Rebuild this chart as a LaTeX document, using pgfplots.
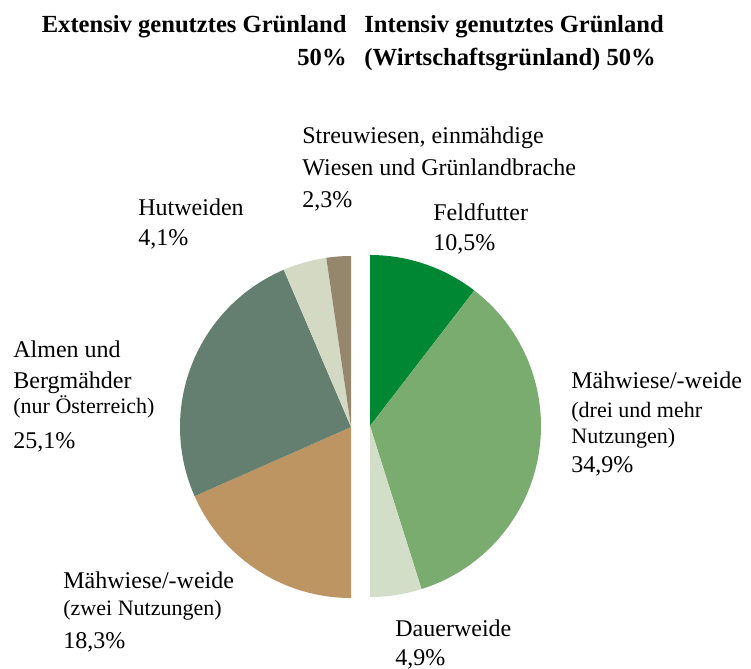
\documentclass[border=0pt]{standalone}
\usepackage{pgfplots}
\pgfplotsset{compat=1.18}
\usepackage{fontspec}
\setmainfont{Liberation Serif}

\definecolor{feld}{HTML}{008733}
\definecolor{mahdrei}{HTML}{7AAC70}
\definecolor{dauer}{HTML}{D2DEC8}
\definecolor{mahzwei}{HTML}{BC9563}
\definecolor{almen}{HTML}{647F6F}
\definecolor{hut}{HTML}{D4D9C4}
\definecolor{streu}{HTML}{95876B}

% slice: centre (x,y in px), start %, end %, half total, start angle, colour
% angle(p) = base - p/total*180  (clockwise)
\newcommand\slice[6]{%
  \fill[#6] (axis cs:#1) -- ++({#5-(#2)/(#4)*180}:85.5pt)
    arc[start angle={#5-(#2)/(#4)*180}, end angle={#5-(#3)/(#4)*180}, radius=85.5pt] -- cycle;}
% text line, anchored at baseline left
\newcommand\lbl[4][]{\node[anchor=base west,inner sep=0pt,font=#2,#1] at (axis cs:#3) {#4};}
\newcommand\lrg{\fontsize{12}{14}\selectfont}
\newcommand\sml{\fontsize{11}{13}\selectfont}

\begin{document}
\begin{tikzpicture}
\begin{axis}[
    hide axis,
    scale only axis,
    width=375.5pt, height=334pt,
    xmin=0, xmax=751,
    ymin=0, ymax=668,
    y dir=reverse,
    clip=false,
]
\path (axis cs:0,0) rectangle (axis cs:751,668);

% intensiv (right half), total 50.3
\slice{370,426}{0}{10.5}{50.3}{90}{feld}
\slice{370,426}{10.5}{45.4}{50.3}{90}{mahdrei}
\slice{370,426}{45.4}{50.3}{50.3}{90}{dauer}
% extensiv (left half), total 49.8
\slice{351,427}{0}{18.3}{49.8}{-90}{mahzwei}
\slice{351,427}{18.3}{43.4}{49.8}{-90}{almen}
\slice{351,427}{43.4}{47.5}{49.8}{-90}{hut}
\slice{351,427}{47.5}{49.8}{49.8}{-90}{streu}

% titles
\lbl[anchor=base east]{\bfseries\fontsize{12.3}{14}\selectfont}{347,32}{Extensiv genutztes Grünland}
\lbl[anchor=base east]{\bfseries\fontsize{12.3}{14}\selectfont}{347,65}{50\%}
\lbl{\bfseries\fontsize{12.3}{14}\selectfont}{364,32}{Intensiv genutztes Grünland}
\lbl{\bfseries\fontsize{12.3}{14}\selectfont}{364,65}{(Wirtschaftsgrünland) 50\%}

% labels
\lbl{\lrg}{302,143}{Streuwiesen, einmähdige}
\lbl{\lrg}{302,175}{Wiesen und Grünlandbrache}
\lbl{\lrg}{302,207}{2,3\%}

\lbl{\lrg}{138,215}{Hutweiden}
\lbl{\lrg}{138,245}{4,1\%}

\lbl{\lrg}{433,220}{Feldfutter}
\lbl{\lrg}{433,250}{10,5\%}

\lbl{\lrg}{13,357}{Almen und}
\lbl{\lrg}{13,388}{Bergmähder}
\lbl{\sml}{13,413}{(nur Österreich)}
\lbl{\lrg}{13,448}{25,1\%}

\lbl{\lrg}{571,388}{Mähwiese/-weide}
\lbl{\sml}{571,417}{(drei und mehr}
\lbl{\sml}{571,443}{Nutzungen)}
\lbl{\lrg}{571,472}{34,9\%}

\lbl{\lrg}{63,588}{Mähwiese/-weide}
\lbl{\sml}{63,615}{(zwei Nutzungen)}
\lbl{\lrg}{63,648}{18,3\%}

\lbl{\lrg}{395,636}{Dauerweide}
\lbl{\lrg}{395,665}{4,9\%}
\end{axis}
\end{tikzpicture}
\end{document}
